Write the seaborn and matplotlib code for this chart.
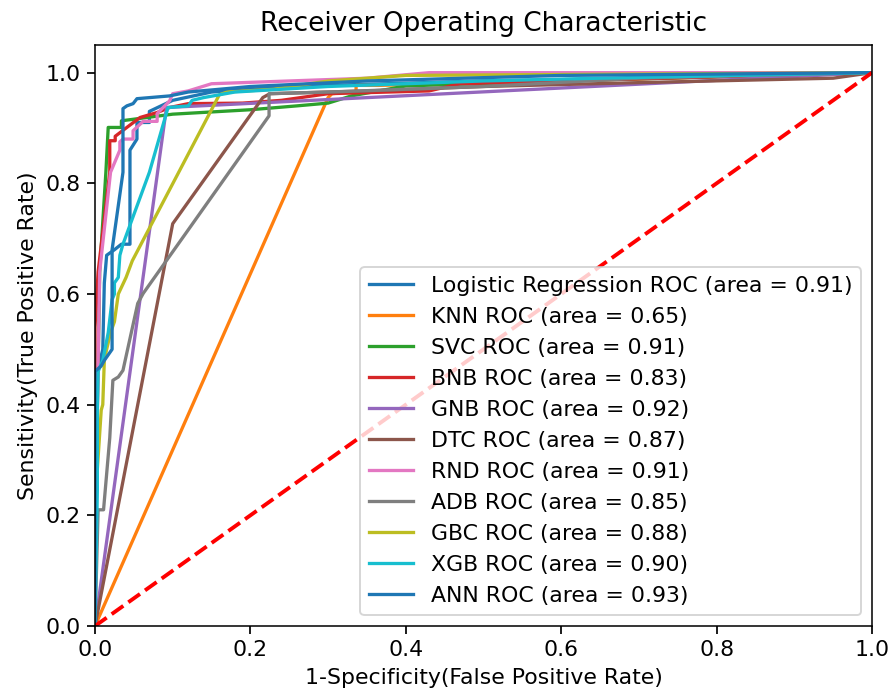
import matplotlib
matplotlib.use("Agg")
import matplotlib.pyplot as plt
import seaborn as sns
import pandas as pd

models = ["Logistic Regression", "KNN", "SVC", "BNB", "GNB", "DTC",
          "RND", "ADB", "GBC", "XGB", "ANN"]
areas = [0.91, 0.65, 0.91, 0.83, 0.92, 0.87, 0.91, 0.85, 0.88, 0.90, 0.93]

lr_fpr = [0, 0, 0.005, 0.010, 0.012, 0.015, 0.025, 0.034, 0.045, 0.045, 0.054, 0.054, 0.070, 0.070, 0.10, 0.15, 0.25, 0.50, 0.70, 1]
lr_tpr = [0, 0.46, 0.47, 0.50, 0.62, 0.67, 0.68, 0.69, 0.69, 0.86, 0.88, 0.91, 0.91, 0.93, 0.95, 0.965, 0.975, 0.985, 0.99, 1]

knn_fpr = [0, 0.300, 0.305, 0.336, 0.336, 0.365, 0.45, 1]
knn_tpr = [0, 0.955, 0.962, 0.966, 0.977, 0.977, 0.980, 1]

svc_fpr = [0, 0.002, 0.006, 0.014, 0.017, 0.034, 0.034, 0.10, 0.20, 0.26, 0.30, 0.33, 0.40, 0.60, 1]
svc_tpr = [0, 0.30, 0.64, 0.82, 0.901, 0.901, 0.913, 0.925, 0.933, 0.94, 0.945, 0.958, 0.976, 0.985, 1]

bnb_fpr = [0, 0, 0.004, 0.019, 0.019, 0.026, 0.026, 0.040, 0.058, 0.080, 0.096, 0.12, 0.19, 0.24, 0.30, 0.43, 0.47, 0.60, 1]
bnb_tpr = [0, 0.54, 0.64, 0.82, 0.877, 0.877, 0.885, 0.90, 0.919, 0.928, 0.937, 0.944, 0.945, 0.95, 0.962, 0.967, 0.98, 0.985, 1]

gnb_fpr = [0, 0.092, 1]
gnb_tpr = [0, 0.937, 1]

dtc_fpr = [0, 0.100, 0.216, 0.225, 0.35, 0.50, 0.70, 0.95, 1]
dtc_tpr = [0, 0.727, 0.955, 0.962, 0.967, 0.975, 0.982, 0.99, 1]

rnd_fpr = [0, 0.002, 0.006, 0.020, 0.032, 0.032, 0.036, 0.049, 0.049, 0.062, 0.080, 0.080, 0.096, 0.10, 0.12, 0.15, 0.25, 0.35, 0.43, 1]
rnd_tpr = [0, 0.30, 0.64, 0.82, 0.86, 0.875, 0.88, 0.88, 0.895, 0.912, 0.912, 0.926, 0.949, 0.962, 0.967, 0.98, 0.985, 0.99, 1.0, 1]

adb_fpr = [0, 0.004, 0.011, 0.019, 0.023, 0.030, 0.036, 0.055, 0.062, 0.224, 0.224, 0.30, 0.50, 0.70, 1]
adb_tpr = [0, 0.21, 0.21, 0.34, 0.444, 0.45, 0.462, 0.583, 0.601, 0.922, 0.962, 0.965, 0.975, 0.99, 1]

gbc_fpr = [0, 0.001, 0.008, 0.010, 0.012, 0.015, 0.020, 0.025, 0.030, 0.040, 0.048, 0.160, 0.170, 0.23, 0.30, 0.40, 1]
gbc_tpr = [0, 0.24, 0.39, 0.40, 0.48, 0.50, 0.53, 0.55, 0.60, 0.63, 0.66, 0.96, 0.965, 0.97, 0.985, 0.995, 1]

xgb_fpr = [0, 0.003, 0.003, 0.004, 0.010, 0.017, 0.022, 0.025, 0.025, 0.030, 0.032, 0.036, 0.070, 0.094, 0.12, 0.125, 0.14, 0.18, 0.30, 0.50, 0.65, 1]
xgb_tpr = [0, 0.245, 0.40, 0.46, 0.48, 0.53, 0.59, 0.60, 0.62, 0.63, 0.67, 0.69, 0.82, 0.937, 0.94, 0.95, 0.955, 0.965, 0.975, 0.985, 0.99, 1]

ann_fpr = [0, 0, 0.008, 0.012, 0.022, 0.022, 0.036, 0.036, 0.041, 0.049, 0.054, 0.096, 0.12, 0.20, 0.35, 0.60, 1]
ann_tpr = [0, 0.46, 0.47, 0.48, 0.50, 0.68, 0.82, 0.935, 0.94, 0.944, 0.953, 0.958, 0.965, 0.975, 0.985, 0.995, 1]

fprs = [lr_fpr, knn_fpr, svc_fpr, bnb_fpr, gnb_fpr, dtc_fpr, rnd_fpr, adb_fpr, gbc_fpr, xgb_fpr, ann_fpr]
tprs = [lr_tpr, knn_tpr, svc_tpr, bnb_tpr, gnb_tpr, dtc_tpr, rnd_tpr, adb_tpr, gbc_tpr, xgb_tpr, ann_tpr]

dpi = 139
plt.rcParams["font.size"] = 11.4
fig = plt.figure(figsize=(889 / dpi, 695 / dpi), dpi=dpi)
ax = fig.add_axes([95 / 889, 69 / 695, 777 / 889, 581 / 695])

for i, (name, area, fpr, tpr) in enumerate(zip(models, areas, fprs, tprs)):
    df = pd.DataFrame({"fpr": fpr, "tpr": tpr})
    sns.lineplot(data=df, x="fpr", y="tpr", ax=ax, estimator=None, sort=False,
                 color=f"C{i % 10}", linewidth=1.7,
                 label=f"{name} ROC (area = {area:.2f})")

ax.plot([0, 1], [0, 1], "r--", linewidth=2.0)
ax.set_xlim(0.0, 1.0)
ax.set_ylim(0.0, 1.05)
ax.tick_params(labelsize=11.4, length=4, width=0.9)
ax.set_xlabel("1-Specificity(False Positive Rate)", fontsize=11.4)
ax.set_ylabel("Sensitivity(True Positive Rate)", fontsize=11.4)
ax.set_title("Receiver Operating Characteristic", fontsize=13.7, pad=7)
ax.legend(loc="lower right", fontsize=11.4)
fig.savefig("out.png", dpi=dpi)
